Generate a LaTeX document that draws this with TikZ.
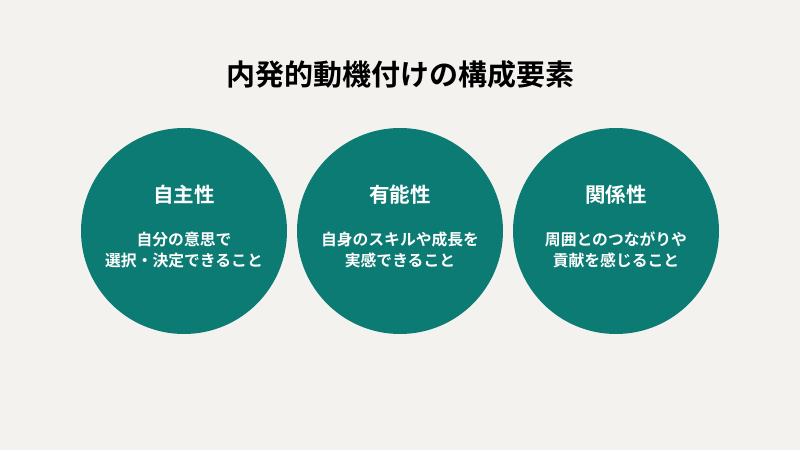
\documentclass[tikz,border=0pt]{standalone}
\usepackage{fontspec}
\newfontfamily\jpb{Noto Sans CJK JP Bold}
\definecolor{bg}{HTML}{F4F2EE}
\definecolor{teal1}{HTML}{0C7B73}
\begin{document}
\begin{tikzpicture}[x=1pt,y=-1pt,
  circ/.style={circle,fill=teal1,minimum size=206pt,inner sep=0pt},
  head/.style={text=white,font=\jpb\fontsize{20.5}{24}\selectfont},
  body/.style={text=white,align=center,font=\jpb\fontsize{15.8}{21.5}\selectfont}]
\fill[bg] (0,0) rectangle (800,450);
\useasboundingbox (0,0) rectangle (800,450);
\node[font=\jpb\fontsize{29}{32}\selectfont] (title) at (400,75) {内発的動機付けの構成要素};
\node[circ] (c1) at (184,231) {};
\node[circ] (c2) at (400,231) {};
\node[circ] (c3) at (616,231) {};
\node[head] (h1) at (184,195) {自主性};
\node[head] (h2) at (400,195) {有能性};
\node[head] (h3) at (616,195) {関係性};
\node[body] (b1) at (184,250) {自分の意思で\\選択・決定できること};
\node[body] (b2) at (400,250) {自身のスキルや成長を\\実感できること};
\node[body] (b3) at (616,250) {周囲とのつながりや\\貢献を感じること};
\end{tikzpicture}
\end{document}
